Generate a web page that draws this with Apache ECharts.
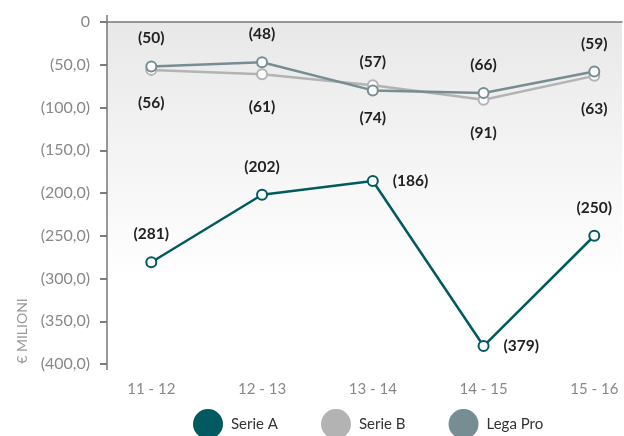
<!DOCTYPE html>
<html>
<head>
<meta charset="utf-8">
<script src="https://cdn.jsdelivr.net/npm/echarts@6/dist/echarts.min.js"></script>
<style>
  html, body { margin: 0; padding: 0; background: #fff; }
  #main { width: 624px; height: 436px; }
</style>
</head>
<body>
<div id="main"></div>
<script>
var categories = ['11 - 12', '12 - 13', '13 - 14', '14 - 15', '15 - 16'];
var serieA = [-281, -202, -186, -379, -250];
var serieB = [-56, -61, -74, -91, -63];
var legaPro = [-52, -47, -80, -83, -58];
// testo delle etichette come nel grafico originale
var serieBLabels = [56, 61, 74, 91, 63];
var legaProLabels = [50, 48, 57, 66, 59];
var serieAPos = ['top', 'top', 'right', 'right', 'top'];

var chart = echarts.init(document.getElementById('main'));
var font = 'Lato, "Noto Sans", sans-serif';

function pairs(arr) {
    return arr.map(function (v, i) { return [i, v]; });
}

var labelStyle = { show: true, fontFamily: font, fontSize: 15.5, fontWeight: 'bold', color: '#222' };

var option = {
    animation: false,
    grid: {
        left: 107, right: 2, top: 22, height: 342,
        show: true, borderWidth: 0,
        backgroundColor: {
            type: 'linear', x: 0, y: 0, x2: 0, y2: 1,
            colorStops: [
                { offset: 0, color: '#e8e8e8' },
                { offset: 0.75, color: '#ffffff' },
                { offset: 1, color: '#ffffff' }
            ]
        }
    },
    legend: {
        left: 193, top: 409, padding: 0,
        itemWidth: 30, itemHeight: 30, itemGap: 43,
        icon: 'circle',
        textStyle: { fontFamily: font, fontSize: 15, color: '#333', padding: [0, 0, 0, 3] },
        data: ['Serie A', 'Serie B', 'Lega Pro']
    },
    xAxis: [{
        type: 'value', min: -0.4, max: 4.25, position: 'bottom',
        axisLine: { show: false }, axisTick: { show: false }, splitLine: { show: false },
        axisLabel: {
            customValues: [0, 1, 2, 3, 4],
            formatter: function (v) { return categories[v]; },
            fontFamily: font, fontSize: 15, color: '#888', margin: 18
        }
    }, {
        type: 'value', min: -0.4, max: 4.25, position: 'top',
        axisLine: { show: true, onZero: false, lineStyle: { color: '#777', width: 1.5 } },
        axisTick: { show: false }, axisLabel: { show: false }, splitLine: { show: false }
    }],
    yAxis: {
        type: 'value', min: -400, max: 0, interval: 50,
        axisLine: { show: false, onZero: false },
        axisTick: { show: true, length: 7, lineStyle: { color: '#555', width: 1.5 } },
        splitLine: { show: false },
        axisLabel: {
            fontFamily: font, fontSize: 16, color: '#888', margin: 17,
            formatter: function (v) {
                return v === 0 ? '0' : '(' + Math.abs(v).toFixed(1).replace('.', ',') + ')';
            }
        }
    },
    graphic: [{
        type: 'text', x: 22, y: 331, rotation: Math.PI / 2,
        style: { text: '€ MILIONI', fill: '#999', font: '14px ' + font, align: 'center', verticalAlign: 'middle' }
    }, {
        type: 'line', shape: { x1: 107, y1: 15, x2: 107, y2: 370 },
        style: { stroke: '#777', lineWidth: 1.5 }, z: 10
    }],
    series: [{
        name: 'Serie A', type: 'line', color: '#005a5f',
        data: serieA.map(function (v, i) {
            return { value: [i, v], label: { position: serieAPos[i] } };
        }),
        symbol: 'emptyCircle', symbolSize: 10,
        lineStyle: { width: 2.5 }, itemStyle: { borderWidth: 2.5 },
        label: Object.assign({}, labelStyle, {
            distance: 14,
            formatter: function (p) { return '(' + Math.abs(p.value[1]) + ')'; }
        })
    }, {
        name: 'Serie B', type: 'line', color: '#b3b3b3',
        data: pairs(serieB),
        symbol: 'emptyCircle', symbolSize: 10,
        lineStyle: { width: 2.5 }, itemStyle: { borderWidth: 2.5 },
        label: Object.assign({}, labelStyle, {
            position: 'bottom', distance: 19,
            formatter: function (p) { return '(' + serieBLabels[p.dataIndex] + ')'; }
        })
    }, {
        name: 'Lega Pro', type: 'line', color: '#768d94',
        data: pairs(legaPro),
        symbol: 'emptyCircle', symbolSize: 10,
        lineStyle: { width: 2.5 }, itemStyle: { borderWidth: 2.5 },
        label: Object.assign({}, labelStyle, {
            position: 'top', distance: 14,
            formatter: function (p) { return '(' + legaProLabels[p.dataIndex] + ')'; }
        })
    }]
};

chart.setOption(option);
</script>
</body>
</html>
